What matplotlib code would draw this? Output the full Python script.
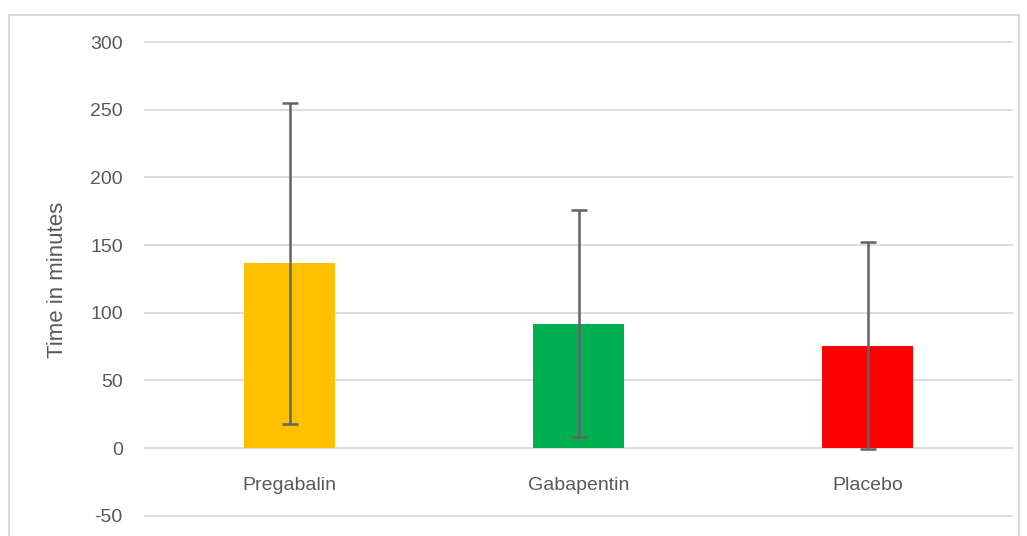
import matplotlib.pyplot as plt
from matplotlib.patches import Rectangle

# Data
drugs = ["Pregabalin", "Gabapentin", "Placebo"]
mean_time = [136.5, 92.0, 75.5]
sd_time = [118.5, 84.0, 76.5]
bar_colors = ["#FFC000", "#00B050", "#FF0000"]
y_ticks = [-50, 0, 50, 100, 150, 200, 250, 300]

plt.rcParams['font.family'] = ['Liberation Sans Narrow', 'Liberation Sans', 'DejaVu Sans']

W, H = 1027, 536
fig = plt.figure(figsize=(W / 100, H / 100), dpi=100)

# light border of the chart area
fig.patches.append(Rectangle((9 / W, -0.1), (1019 - 9) / W, 1.1 - 15 / H,
                             transform=fig.transFigure, fill=False,
                             edgecolor="#d9d9d9", linewidth=1.5))

ax = fig.add_axes([145 / W, 0, (1012 - 145) / W, 1 - 42 / H])

x = range(len(drugs))
ax.bar(x, mean_time, width=0.315, color=bar_colors, zorder=2)
ax.errorbar(x, mean_time, yerr=sd_time, fmt="none", ecolor="#636363",
            elinewidth=1.8, capsize=6, capthick=1.8, zorder=3)

ax.set_xlim(-0.5, 2.5)
ax.set_ylim(-65, 300)
ax.set_yticks(y_ticks)
ax.set_yticklabels([str(v) for v in y_ticks], fontsize=14, color="#595959")
ax.tick_params(axis="y", length=0, pad=16)
ax.set_xticks([])
ax.grid(axis="y", color="#d9d9d9", linewidth=1.3, zorder=0)
for gl in ax.get_ygridlines():
    gl.set_clip_on(False)
for s in ax.spines.values():
    s.set_visible(False)

for i, name in enumerate(drugs):
    ax.annotate(name, (i, 0), xytext=(0, -27), textcoords="offset points",
                ha="center", va="center", fontsize=14, color="#595959")

fig.text(58 / W, 1 - 280 / H, "Time in minutes", rotation=90, ha="center",
         va="center", fontsize=16, color="#595959")

plt.savefig("out.png", dpi=100)
